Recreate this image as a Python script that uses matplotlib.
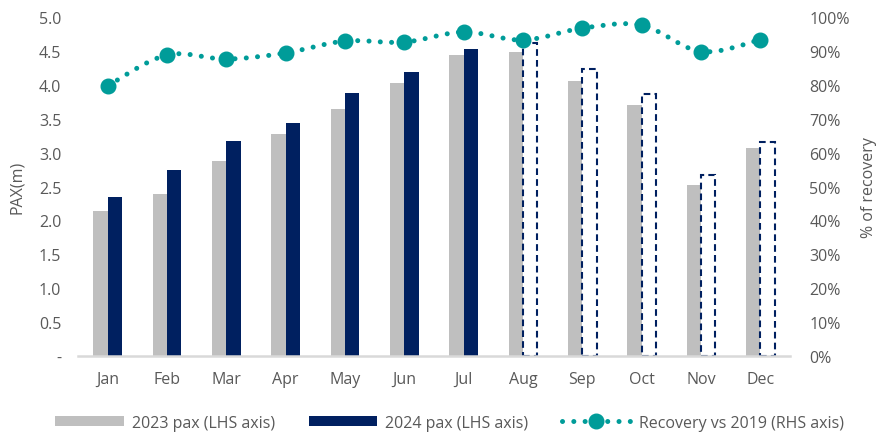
import matplotlib
matplotlib.use("Agg")
import matplotlib.pyplot as plt
from matplotlib.path import Path
from matplotlib.patches import PathPatch
from matplotlib.lines import Line2D
from matplotlib.patches import Patch
import numpy as np

plt.rcParams['font.family'] = ['Open Sans', 'DejaVu Sans']

months = ["Jan", "Feb", "Mar", "Apr", "May", "Jun", "Jul", "Aug", "Sep", "Oct", "Nov", "Dec"]
pax_2023 = [2.14, 2.39, 2.88, 3.27, 3.64, 4.03, 4.44, 4.48, 4.05, 3.70, 2.52, 3.07]
pax_2024 = [2.35, 2.75, 3.17, 3.44, 3.88, 4.19, 4.53, 4.61, 4.23, 3.87, 2.67, 3.15]
n_actual_2024 = 7  # Jan-Jul actual, Aug-Dec forecast
recovery = [79.7, 88.8, 87.6, 89.4, 92.9, 92.6, 95.6, 93.2, 96.7, 97.6, 89.8, 93.3]

left_ticks = [0, 0.5, 1.0, 1.5, 2.0, 2.5, 3.0, 3.5, 4.0, 4.5, 5.0]
left_labels = ["-", "0.5", "1.0", "1.5", "2.0", "2.5", "3.0", "3.5", "4.0", "4.5", "5.0"]
right_ticks = [0, 10, 20, 30, 40, 50, 60, 70, 80, 90, 100]
right_labels = [f"{t}%" for t in right_ticks]

GREY = "#BFBFBF"
NAVY = "#002060"
TEAL = "#009C99"
TXT = "#595959"
FS = 11.5

fig = plt.figure(figsize=(8.78, 4.35), dpi=100)
ax = fig.add_axes([0.0888, 0.1793, 0.8110, 0.7793])
ax2 = ax.twinx()

x = np.arange(len(months))
w = 0.24

ax.bar(x - w / 2, pax_2023, width=w, color=GREY, zorder=2)
ax.bar(x[:n_actual_2024] + w / 2, pax_2024[:n_actual_2024], width=w, color=NAVY, zorder=2)
ax.bar(x[n_actual_2024:] + w / 2, pax_2024[n_actual_2024:], width=w, facecolor="white",
       edgecolor=NAVY, linewidth=1.5, linestyle=(0, (3.2, 2)), zorder=2)

ax.set_xlim(-0.5, len(months) - 0.5)
ax.set_ylim(0, 5.0)
ax.set_yticks(left_ticks)
ax.set_yticklabels(left_labels)
ax.set_xticks(x)
ax.set_xticklabels(months)

ax2.set_ylim(0, 100)
ax2.set_yticks(right_ticks)
ax2.set_yticklabels(right_labels)

for a in (ax, ax2):
    for s in a.spines.values():
        s.set_visible(False)
    a.tick_params(length=0, labelsize=FS, labelcolor=TXT)
ax.spines['bottom'].set_visible(True)
ax.spines['bottom'].set_color("#D9D9D9")
ax.spines['bottom'].set_linewidth(1.8)
ax.tick_params(axis='x', pad=11)
ax.tick_params(axis='y', pad=12)
ax2.tick_params(axis='y', pad=14)

ax.set_ylabel("PAX(m)", fontsize=FS, color=TXT, labelpad=10)
ax2.set_ylabel("% of recovery", fontsize=FS, color=TXT, labelpad=8)

# smoothed recovery line (Catmull-Rom converted to cubic Bezier segments)
pts = np.column_stack([x, recovery]).astype(float)
verts = [tuple(pts[0])]
codes = [Path.MOVETO]
for i in range(len(pts) - 1):
    p0 = pts[i - 1] if i > 0 else pts[i]
    p1 = pts[i]
    p2 = pts[i + 1]
    p3 = pts[i + 2] if i + 2 < len(pts) else pts[i + 1]
    c1 = p1 + (p2 - p0) / 6.0
    c2 = p2 - (p3 - p1) / 6.0
    verts += [tuple(c1), tuple(c2), tuple(p2)]
    codes += [Path.CURVE4] * 3
line_dash = (0, (0.01, 2.25))
curve = PathPatch(Path(verts, codes), fill=False, edgecolor=TEAL, linewidth=3.6,
                  linestyle=line_dash, capstyle='round', zorder=3)
ax2.add_patch(curve)
ax2.plot(x, recovery, linestyle='none', marker='o', markersize=10.5, color=TEAL, zorder=4)

handles = [
    Patch(facecolor=GREY, edgecolor='none'),
    Patch(facecolor=NAVY, edgecolor='none'),
    Line2D([], [], color=TEAL, linewidth=3.6, linestyle=line_dash, dash_capstyle='round',
           marker='o', markersize=10.5),
]
labels = ["2023 pax (LHS axis)", "2024 pax (LHS axis)", "Recovery vs 2019 (RHS axis)"]
fig.legend(handles, labels, loc='lower center', bbox_to_anchor=(0.512, 0.008), ncol=3,
           frameon=False, fontsize=FS, labelcolor=TXT, handlelength=4.3, handleheight=0.65,
           handletextpad=0.5, columnspacing=2.1, borderpad=0, borderaxespad=0)

fig.savefig("out.png", dpi=100)
